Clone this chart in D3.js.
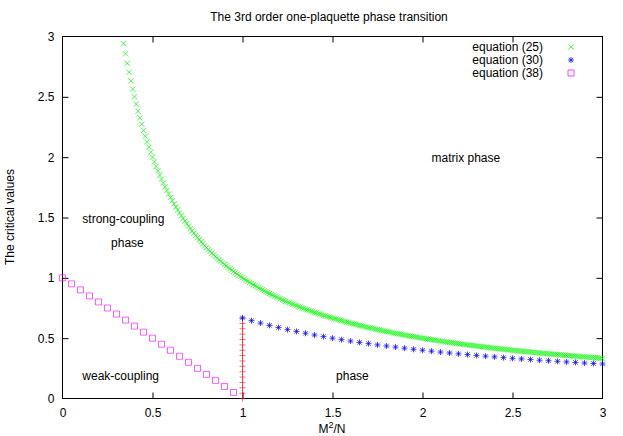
<!DOCTYPE html>
<html><head><meta charset="utf-8">
<script src="https://cdn.jsdelivr.net/npm/d3@7"></script>
<style>
body{margin:0;background:#fff;}
text{font-family:"Liberation Sans",Arial,Helvetica,sans-serif;font-size:12px;fill:#000;}
</style></head><body>
<svg id="c" width="623" height="436"></svg>
<script>
// ---- data ----
const titleText = "The 3rd order one-plaquette phase transition";
const xTicks = [0, 0.5, 1, 1.5, 2, 2.5, 3];
const yTicks = [0, 0.5, 1, 1.5, 2, 2.5, 3];
const legendLabels = ["equation (25)", "equation (30)", "equation (38)"];

const eq25X = [0.34,0.35,0.36,0.37,0.38,0.39,
0.40,0.41,0.42,0.43,0.44,0.45,0.46,0.47,0.48,0.49,
0.50,0.51,0.52,0.53,0.54,0.55,0.56,0.57,0.58,0.59,
0.60,0.61,0.62,0.63,0.64,0.65,0.66,0.67,0.68,0.69,
0.70,0.71,0.72,0.73,0.74,0.75,0.76,0.77,0.78,0.79,
0.80,0.81,0.82,0.83,0.84,0.85,0.86,0.87,0.88,0.89,
0.90,0.91,0.92,0.93,0.94,0.95,0.96,0.97,0.98,0.99,
1.00,1.01,1.02,1.03,1.04,1.05,1.06,1.07,1.08,1.09,
1.10,1.11,1.12,1.13,1.14,1.15,1.16,1.17,1.18,1.19,
1.20,1.21,1.22,1.23,1.24,1.25,1.26,1.27,1.28,1.29,
1.30,1.31,1.32,1.33,1.34,1.35,1.36,1.37,1.38,1.39,
1.40,1.41,1.42,1.43,1.44,1.45,1.46,1.47,1.48,1.49,
1.50,1.51,1.52,1.53,1.54,1.55,1.56,1.57,1.58,1.59,
1.60,1.61,1.62,1.63,1.64,1.65,1.66,1.67,1.68,1.69,
1.70,1.71,1.72,1.73,1.74,1.75,1.76,1.77,1.78,1.79,
1.80,1.81,1.82,1.83,1.84,1.85,1.86,1.87,1.88,1.89,
1.90,1.91,1.92,1.93,1.94,1.95,1.96,1.97,1.98,1.99,
2.00,2.01,2.02,2.03,2.04,2.05,2.06,2.07,2.08,2.09,
2.10,2.11,2.12,2.13,2.14,2.15,2.16,2.17,2.18,2.19,
2.20,2.21,2.22,2.23,2.24,2.25,2.26,2.27,2.28,2.29,
2.30,2.31,2.32,2.33,2.34,2.35,2.36,2.37,2.38,2.39,
2.40,2.41,2.42,2.43,2.44,2.45,2.46,2.47,2.48,2.49,
2.50,2.51,2.52,2.53,2.54,2.55,2.56,2.57,2.58,2.59,
2.60,2.61,2.62,2.63,2.64,2.65,2.66,2.67,2.68,2.69,
2.70,2.71,2.72,2.73,2.74,2.75,2.76,2.77,2.78,2.79,
2.80,2.81,2.82,2.83,2.84,2.85,2.86,2.87,2.88,2.89,
2.90,2.91,2.92,2.93,2.94,2.95,2.96,2.97,2.98,2.99,
3.00];
const eq25Y = [2.941,2.857,2.778,2.703,2.632,2.564,
2.500,2.439,2.381,2.326,2.273,2.222,2.174,2.128,2.083,2.041,
2.000,1.961,1.923,1.887,1.852,1.818,1.786,1.754,1.724,1.695,
1.667,1.639,1.613,1.587,1.563,1.538,1.515,1.493,1.471,1.449,
1.429,1.408,1.389,1.370,1.351,1.333,1.316,1.299,1.282,1.266,
1.250,1.235,1.220,1.205,1.190,1.176,1.163,1.149,1.136,1.124,
1.111,1.099,1.087,1.075,1.064,1.053,1.042,1.031,1.020,1.010,
1.000,0.990,0.980,0.971,0.962,0.952,0.943,0.935,0.926,0.917,
0.909,0.901,0.893,0.885,0.877,0.870,0.862,0.855,0.847,0.840,
0.833,0.826,0.820,0.813,0.806,0.800,0.794,0.787,0.781,0.775,
0.769,0.763,0.758,0.752,0.746,0.741,0.735,0.730,0.725,0.719,
0.714,0.709,0.704,0.699,0.694,0.690,0.685,0.680,0.676,0.671,
0.667,0.662,0.658,0.654,0.649,0.645,0.641,0.637,0.633,0.629,
0.625,0.621,0.617,0.613,0.610,0.606,0.602,0.599,0.595,0.592,
0.588,0.585,0.581,0.578,0.575,0.571,0.568,0.565,0.562,0.559,
0.556,0.552,0.549,0.546,0.543,0.541,0.538,0.535,0.532,0.529,
0.526,0.524,0.521,0.518,0.515,0.513,0.510,0.508,0.505,0.503,
0.500,0.498,0.495,0.493,0.490,0.488,0.485,0.483,0.481,0.478,
0.476,0.474,0.472,0.469,0.467,0.465,0.463,0.461,0.459,0.457,
0.455,0.452,0.450,0.448,0.446,0.444,0.442,0.441,0.439,0.437,
0.435,0.433,0.431,0.429,0.427,0.426,0.424,0.422,0.420,0.418,
0.417,0.415,0.413,0.412,0.410,0.408,0.407,0.405,0.403,0.402,
0.400,0.398,0.397,0.395,0.394,0.392,0.391,0.389,0.388,0.386,
0.385,0.383,0.382,0.380,0.379,0.377,0.376,0.375,0.373,0.372,
0.370,0.369,0.368,0.366,0.365,0.364,0.362,0.361,0.360,0.358,
0.357,0.356,0.355,0.353,0.352,0.351,0.350,0.348,0.347,0.346,
0.345,0.344,0.342,0.341,0.340,0.339,0.338,0.337,0.336,0.334,
0.333];

const eq30X = [1.00,1.05,1.10,1.15,1.20,1.25,1.30,1.35,1.40,1.45,
1.50,1.55,1.60,1.65,1.70,1.75,1.80,1.85,1.90,1.95,
2.00,2.05,2.10,2.15,2.20,2.25,2.30,2.35,2.40,2.45,
2.50,2.55,2.60,2.65,2.70,2.75,2.80,2.85,2.90,2.95,3.00];
const eq30Y = [0.667,0.645,0.625,0.606,0.588,0.571,0.556,0.541,0.526,0.513,
0.500,0.488,0.476,0.465,0.455,0.444,0.435,0.426,0.417,0.408,
0.400,0.392,0.385,0.377,0.370,0.364,0.357,0.351,0.345,0.339,
0.333,0.328,0.323,0.317,0.313,0.308,0.303,0.299,0.294,0.290,0.286];

const eq38X = [0.00,0.05,0.10,0.15,0.20,0.25,0.30,0.35,0.40,0.45,
0.50,0.55,0.60,0.65,0.70,0.75,0.80,0.85,0.90,0.95];
const eq38Y = [1.00,0.95,0.90,0.85,0.80,0.75,0.70,0.65,0.60,0.55,
0.50,0.45,0.40,0.35,0.30,0.25,0.20,0.15,0.10,0.05];

const boundaryX = [1,1,1,1,1,1,1,1,1,1,1,1,1,1,1,1];
const boundaryY = [0,0.044,0.089,0.133,0.178,0.222,0.267,0.311,0.356,0.400,
0.444,0.489,0.533,0.578,0.622,0.667];

const regionLabels = [
  {t:"matrix phase", x:2.05, y:1.99},
  {t:"strong-coupling", x:0.11, y:1.49},
  {t:"phase", x:0.27, y:1.29},
  {t:"weak-coupling", x:0.11, y:0.19},
  {t:"phase", x:1.52, y:0.19}
];

// ---- drawing ----
const svg = d3.select("#c");
const L = 62.5, R = 602.5, T = 36.5, B = 398.5;
const x = d3.scaleLinear().domain([0,3]).range([L,R]);
const y = d3.scaleLinear().domain([0,3]).range([B,T]);

svg.append("text").attr("x",329).attr("y",21).attr("text-anchor","middle").text(titleText);

const tk = 6;
const axB = svg.append("g").attr("transform",`translate(0,${B})`)
  .call(d3.axisBottom(x).tickValues(xTicks).tickSizeInner(-tk).tickSizeOuter(0).tickPadding(10).tickFormat(d3.format("")));
const axT = svg.append("g").attr("transform",`translate(0,${T})`)
  .call(d3.axisTop(x).tickValues(xTicks).tickSizeInner(-tk).tickSizeOuter(0).tickFormat(""));
const axL = svg.append("g").attr("transform",`translate(${L},0)`)
  .call(d3.axisLeft(y).tickValues(yTicks).tickSizeInner(-tk).tickSizeOuter(0).tickPadding(8).tickFormat(d3.format("")));
const axR = svg.append("g").attr("transform",`translate(${R},0)`)
  .call(d3.axisRight(y).tickValues(yTicks).tickSizeInner(-tk).tickSizeOuter(0).tickFormat(""));
[axB,axT,axL,axR].forEach(a=>{
  a.select(".domain").remove();
  a.selectAll("line").attr("stroke","#000");
  a.selectAll("text").attr("font-family","Liberation Sans, Arial, sans-serif").attr("font-size",12).attr("fill","#000");
  a.selectAll(".tick").filter(d=>d===0||d===3).select("line").remove();
});

svg.append("rect").attr("x",L).attr("y",T).attr("width",R-L).attr("height",B-T)
  .attr("fill","none").attr("stroke","#000");

const xl = svg.append("text").attr("x",332).attr("y",433).attr("text-anchor","middle");
xl.append("tspan").text("M");
xl.append("tspan").attr("dy",-5).attr("font-size",9).text("2");
xl.append("tspan").attr("dy",5).text("/N");
svg.append("text").attr("transform","translate(14,217) rotate(-90)").attr("text-anchor","middle").text("The critical values");

regionLabels.forEach(r=>{
  svg.append("text").attr("x",x(r.x)).attr("y",y(r.y)+4).text(r.t);
});

function crossPath(s){return `M${-s},${-s}L${s},${s}M${-s},${s}L${s},${-s}`;}
function plusPath(s){return `M${-s},0L${s},0M0,${-s}L0,${s}`;}
function starPath(s){return crossPath(s*0.75)+plusPath(s);}
function squarePath(s){return `M${-s},${-s}H${s}V${s}H${-s}Z`;}

const plot = svg.append("g");
plot.append("path").datum(boundaryY.map((v,i)=>[boundaryX[i],v]))
  .attr("d",d3.line().x(d=>x(d[0])).y(d=>y(d[1])))
  .attr("stroke","#ff0000").attr("stroke-opacity",0.4).attr("fill","none");
plot.selectAll(".bd").data(boundaryY.map((v,i)=>[boundaryX[i],v])).join("path")
  .attr("transform",d=>`translate(${x(d[0])},${y(d[1])})`)
  .attr("d",plusPath(3)).attr("stroke","#ff0000").attr("stroke-opacity",0.55).attr("fill","none");

plot.selectAll(".g").data(eq25Y.map((v,i)=>[eq25X[i],v])).join("path")
  .attr("transform",d=>`translate(${x(d[0])},${y(d[1])})`)
  .attr("d",crossPath(2.6)).attr("stroke","#00ff00").attr("stroke-opacity",0.8).attr("stroke-width",0.9).attr("fill","none");
plot.selectAll(".b").data(eq30Y.map((v,i)=>[eq30X[i],v])).join("path")
  .attr("transform",d=>`translate(${x(d[0])},${y(d[1])})`)
  .attr("d",starPath(3)).attr("stroke","#0000ff").attr("stroke-opacity",0.8).attr("stroke-width",0.9).attr("fill","none");
plot.selectAll(".m").data(eq38Y.map((v,i)=>[eq38X[i],v])).join("path")
  .attr("transform",d=>`translate(${x(d[0])},${y(d[1])})`)
  .attr("d",squarePath(3)).attr("stroke","#ff00ff").attr("stroke-opacity",0.7).attr("stroke-width",0.9).attr("fill","none");

const legShapes = [crossPath(2.6), starPath(3), squarePath(3)];
const legColors = ["#00ff00","#0000ff","#ff00ff"];
legendLabels.forEach((t,i)=>{
  const cy = 47 + i*13;
  svg.append("text").attr("x",543).attr("y",cy+4).attr("text-anchor","end").text(t);
  svg.append("path").attr("transform",`translate(571,${cy})`).attr("d",legShapes[i])
    .attr("stroke",legColors[i]).attr("stroke-opacity",0.8).attr("stroke-width",0.9).attr("fill","none");
});
</script>
</body></html>
